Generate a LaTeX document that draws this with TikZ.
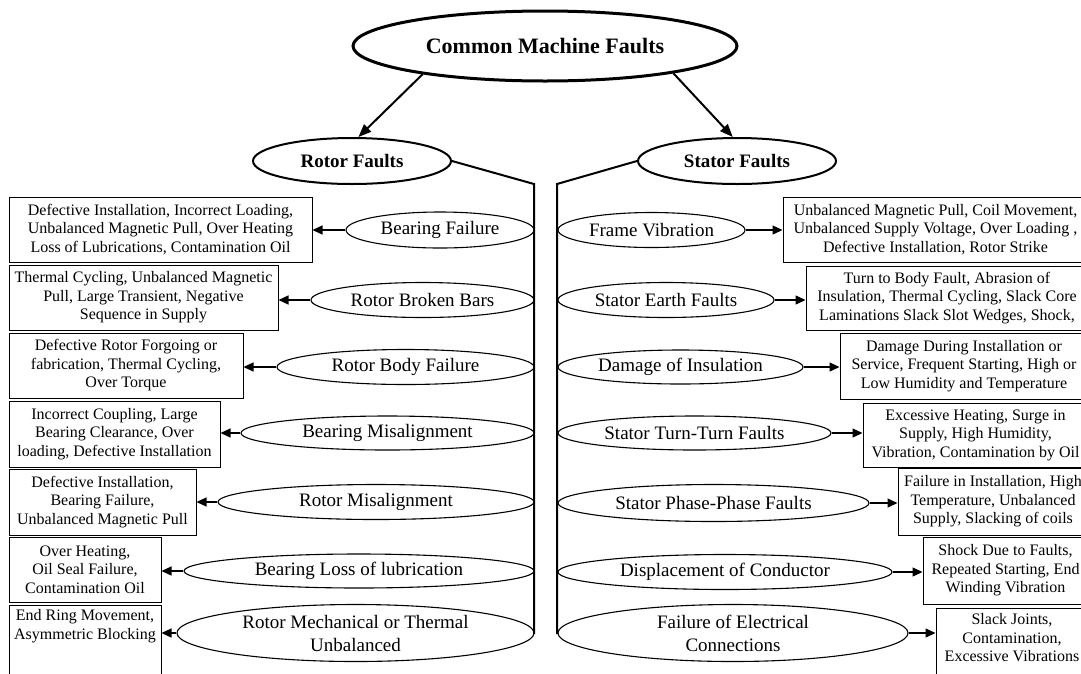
\documentclass[tikz,border=0pt]{standalone}
\usepackage{fontspec}
\setmainfont{Liberation Serif}
\usetikzlibrary{shapes.geometric,arrows.meta,shadows}
\begin{document}
\begin{tikzpicture}[x=1pt,y=-1pt,
  fault/.style={ellipse,draw,line width=1.1pt,inner sep=0pt,align=center,font=\fontsize{19}{23}\selectfont},
  cause/.style={rectangle,draw,line width=1pt,fill=white,inner sep=0pt,align=center,font=\fontsize{16}{18.5}\selectfont,
     drop shadow={shadow xshift=1.2pt,shadow yshift=-1.2pt,fill=black,opacity=0.8}},
  txt/.style={inner sep=0pt,align=center,font=\fontsize{16}{18.5}\selectfont},
  arr/.style={line width=1.3pt,-{Triangle[length=10pt,width=9pt]}},
  bigarr/.style={line width=2pt,-{Triangle[length=13pt,width=10pt]}},
  bus/.style={line width=2pt},
  head/.style={ellipse,draw,inner sep=0pt,align=center}
]
\useasboundingbox (0,0) rectangle (1081,673);
\fill[white] (0,0) rectangle (1081,673);
\clip (0,0) rectangle (1081,673);

% top level
\node[head,line width=3pt,minimum width=384,minimum height=70,font=\bfseries\fontsize{22}{26}\selectfont] (top) at (545,46) {Common Machine Faults};
\node[head,line width=2pt,minimum width=198,minimum height=46,font=\bfseries\fontsize{19}{23}\selectfont] (rotor) at (352,161) {Rotor Faults};
\node[head,line width=2pt,minimum width=198,minimum height=46,font=\bfseries\fontsize{19}{23}\selectfont] (stator) at (737,161) {Stator Faults};
\draw[bigarr] (top.193) -- (rotor.75);
\draw[bigarr] (top.348) -- (stator.100);

% buses
\coordinate (lb1) at (534,184);
\coordinate (lb2) at (534,634);
\coordinate (rb1) at (557,184);
\coordinate (rb2) at (557,634);
\draw[bus] (rotor.east) -- (lb1) -- (lb2);
\draw[bus] (stator.west) -- (rb1) -- (rb2);

% rotor faults
\node[fault,minimum width=188,minimum height=36] (l1) at (440,230) {Bearing Failure};
\node[fault,minimum width=223,minimum height=35] (l2) at (422.5,300) {Rotor Broken Bars};
\node[fault,minimum width=257,minimum height=35] (l3) at (405.5,367) {Rotor Body Failure};
\node[fault,minimum width=293,minimum height=34] (l4) at (387.5,433) {Bearing Misalignment};
\node[fault,minimum width=316,minimum height=35] (l5) at (376,502) {Rotor Misalignment};
\node[fault,minimum width=350,minimum height=34] (l6) at (359,571) {Bearing Loss of lubrication};
\node[fault,minimum width=357,minimum height=57] (l7) at (355.5,633) {Rotor Mechanical or Thermal\\Unbalanced};

\node[cause,minimum width=303,minimum height=65] (b1) at (160.5,229.5) {Defective Installation, Incorrect Loading,\\Unbalanced Magnetic Pull, Over Heating\\Loss of Lubrications, Contamination Oil};
\node[cause,minimum width=269,minimum height=65] (b2) at (143.5,297.5) {Thermal Cycling, Unbalanced Magnetic\\Pull, Large Transient, Negative\\Sequence in Supply};
\node[cause,minimum width=234,minimum height=65] (b3) at (126,365.5) {Defective Rotor Forgoing or\\fabrication, Thermal Cycling,\\Over Torque};
\node[cause,minimum width=211,minimum height=66] (b4) at (114.5,434) {Incorrect Coupling, Large\\Bearing Clearance, Over\\loading, Defective Installation};
\node[cause,minimum width=187,minimum height=66] (b5) at (102.5,502) {Defective Installation,\\Bearing Failure,\\Unbalanced Magnetic Pull};
\node[cause,minimum width=152,minimum height=65] (b6) at (85,569.5) {Over Heating,\\Oil Seal Failure,\\Contamination Oil};
\node[cause,minimum width=152,minimum height=85] (b7) at (85,647.5) {};
\node[txt] (t7) at (85,626) {End Ring Movement,\\Asymmetric Blocking};

\foreach \i in {1,...,7}{\draw[arr] (l\i.west) -- (l\i.west -| b\i.east);}

% stator faults
\node[fault,minimum width=187,minimum height=35] (r1) at (651.5,230) {Frame Vibration};
\node[fault,minimum width=216,minimum height=35] (r2) at (666,300) {Stator Earth Faults};
\node[fault,minimum width=245,minimum height=34] (r3) at (680.5,367) {Damage of Insulation};
\node[fault,minimum width=273,minimum height=34] (r4) at (694.5,433) {Stator Turn-Turn Faults};
\node[fault,minimum width=311,minimum height=37] (r5) at (713.5,503) {Stator Phase-Phase Faults};
\node[fault,minimum width=334,minimum height=35] (r6) at (725,572) {Displacement of Conductor};
\node[fault,minimum width=350,minimum height=57] (r7) at (733,633) {Failure of Electrical\\Connections};

\node[cause,minimum width=305,minimum height=65] (c1) at (935.5,229.5) {Unbalanced Magnetic Pull, Coil Movement,\\Unbalanced Supply Voltage, Over Loading ,\\Defective Installation, Rotor Strike};
\node[cause,minimum width=282,minimum height=64] (c2) at (947,298) {Turn to Body Fault, Abrasion of\\Insulation, Thermal Cycling, Slack Core\\Laminations Slack Slot Wedges, Shock,};
\node[cause,minimum width=248,minimum height=66] (c3) at (964,366) {Damage During Installation or\\Service, Frequent Starting, High or\\Low Humidity and Temperature};
\node[cause,minimum width=225,minimum height=64] (c4) at (975.5,435) {Excessive Heating, Surge in\\Supply, High Humidity,\\Vibration, Contamination by Oil};
\node[cause,minimum width=190,minimum height=67] (c5) at (993,501.5) {Failure in Installation, High\\Temperature, Unbalanced\\Supply, Slacking of coils};
\node[cause,minimum width=165,minimum height=67] (c6) at (1005.5,570.5) {Shock Due to Faults,\\Repeated Starting, End\\Winding Vibration};
\node[cause,minimum width=152,minimum height=82] (c7) at (1012,649) {};
\node[txt] (s7) at (1012,638) {Slack Joints,\\Contamination,\\Excessive Vibrations};

\foreach \i in {1,...,7}{\draw[arr] (r\i.east) -- (r\i.east -| c\i.west);}
\end{tikzpicture}
\end{document}
